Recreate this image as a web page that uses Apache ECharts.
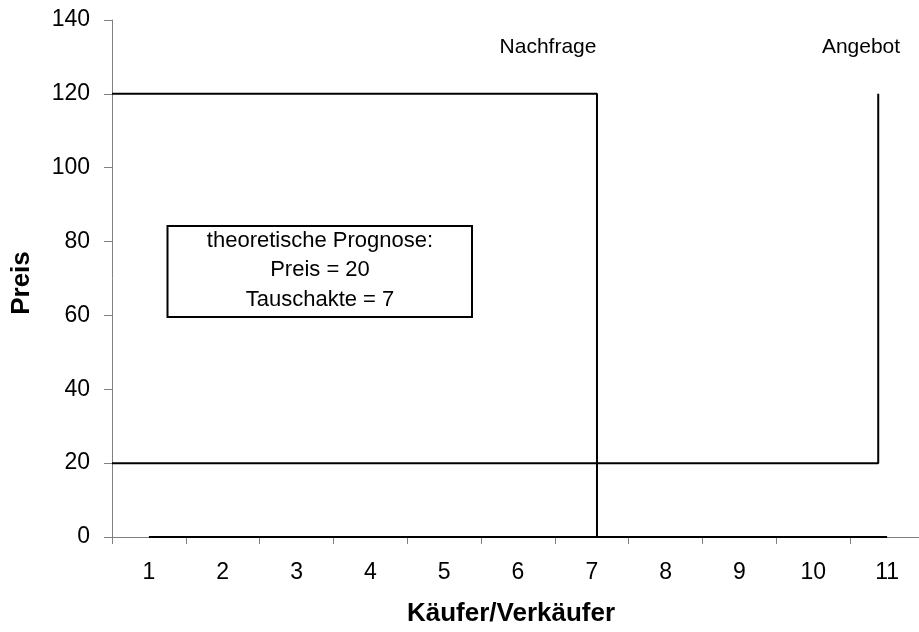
<!DOCTYPE html>
<html>
<head>
<meta charset="utf-8">
<script src="https://cdn.jsdelivr.net/npm/echarts@6/dist/echarts.min.js"></script>
<style>
html,body{margin:0;padding:0;background:#fff;overflow:hidden;width:919px;height:632px;}
#c{width:930px;height:632px;}
</style>
</head>
<body>
<div id="c"></div>
<script>
// Data
const categories = ['1','2','3','4','5','6','7','8','9','10','11'];
const demandX = [0.5, 7.07, 7.07];
const demandY = [120, 120, 0];
const supplyX = [0.5, 10.88, 10.88];
const supplyY = [20, 20, 120];
const baseX = [1, 11];
const baseY = [0, 0];
const yTicks = {min: 0, max: 140, interval: 20};
const boxLines = ['theoretische Prognose:', 'Preis = 20', 'Tauschakte = 7'];
const seriesLabels = ['Nachfrage', 'Angebot'];

function pts(xs, ys){ return xs.map((x,i)=>[x, ys[i]]); }

const FONT = '"Liberation Sans", Arial, sans-serif';
const chart = echarts.init(document.getElementById('c'), null, {renderer:'canvas'});
const lineStyle = {color:'#000', width:2};

chart.setOption({
  animation:false,
  backgroundColor:'#fff',
  grid:{left:112, right:6, top:20, bottom:95, containLabel:false},
  xAxis:[{
    type:'category', data:categories, boundaryGap:true,
    axisLine:{lineStyle:{color:'#808080', width:1}},
    axisTick:{show:true, length:7, lineStyle:{color:'#808080'}},
    axisLabel:{color:'#000', fontSize:23, fontFamily:FONT, margin:24},
    splitLine:{show:false}
  },{
    type:'value', min:0.5, max:11.5, show:false
  }],
  yAxis:{
    type:'value', min:yTicks.min, max:yTicks.max, interval:yTicks.interval,
    axisLine:{show:true, lineStyle:{color:'#808080', width:1}},
    axisTick:{show:true, length:8, lineStyle:{color:'#808080'}},
    axisLabel:{color:'#000', fontSize:23, fontFamily:FONT, margin:22},
    splitLine:{show:false}
  },
  series:[
    {name:seriesLabels[0], type:'line', xAxisIndex:1, data:pts(demandX, demandY), showSymbol:false, symbol:'none', lineStyle:lineStyle, z:5},
    {name:seriesLabels[1], type:'line', xAxisIndex:1, data:pts(supplyX, supplyY), showSymbol:false, symbol:'none', lineStyle:lineStyle, z:5},
    {name:'base', type:'line', xAxisIndex:1, data:pts(baseX, baseY), showSymbol:false, symbol:'none', lineStyle:lineStyle, z:5}
  ],
  graphic:[
    {type:'rect', shape:{x:167.5, y:226, width:304.5, height:91}, style:{fill:'#fff', stroke:'#000', lineWidth:2}, z:10},
    {type:'text', x:320, y:241, style:{text:boxLines[0], font:'22px '+FONT, fill:'#000', textAlign:'center', textVerticalAlign:'middle'}, z:11},
    {type:'text', x:320, y:270, style:{text:boxLines[1], font:'22px '+FONT, fill:'#000', textAlign:'center', textVerticalAlign:'middle'}, z:11},
    {type:'text', x:320, y:300, style:{text:boxLines[2], font:'22px '+FONT, fill:'#000', textAlign:'center', textVerticalAlign:'middle'}, z:11},
    {type:'text', x:548, y:47, style:{text:seriesLabels[0], font:'21px '+FONT, fill:'#000', textAlign:'center', textVerticalAlign:'middle'}, z:11},
    {type:'text', x:861, y:47, style:{text:seriesLabels[1], font:'21px '+FONT, fill:'#000', textAlign:'center', textVerticalAlign:'middle'}, z:11},
    {type:'text', x:511, y:614, style:{text:'Käufer/Verkäufer', font:'bold 26px '+FONT, fill:'#000', textAlign:'center', textVerticalAlign:'middle'}, z:11},
    {type:'text', x:22, y:283, rotation:Math.PI/2, style:{text:'Preis', font:'bold 26px '+FONT, fill:'#000', textAlign:'center', textVerticalAlign:'middle'}, z:11}
  ]
});
</script>
</body>
</html>
